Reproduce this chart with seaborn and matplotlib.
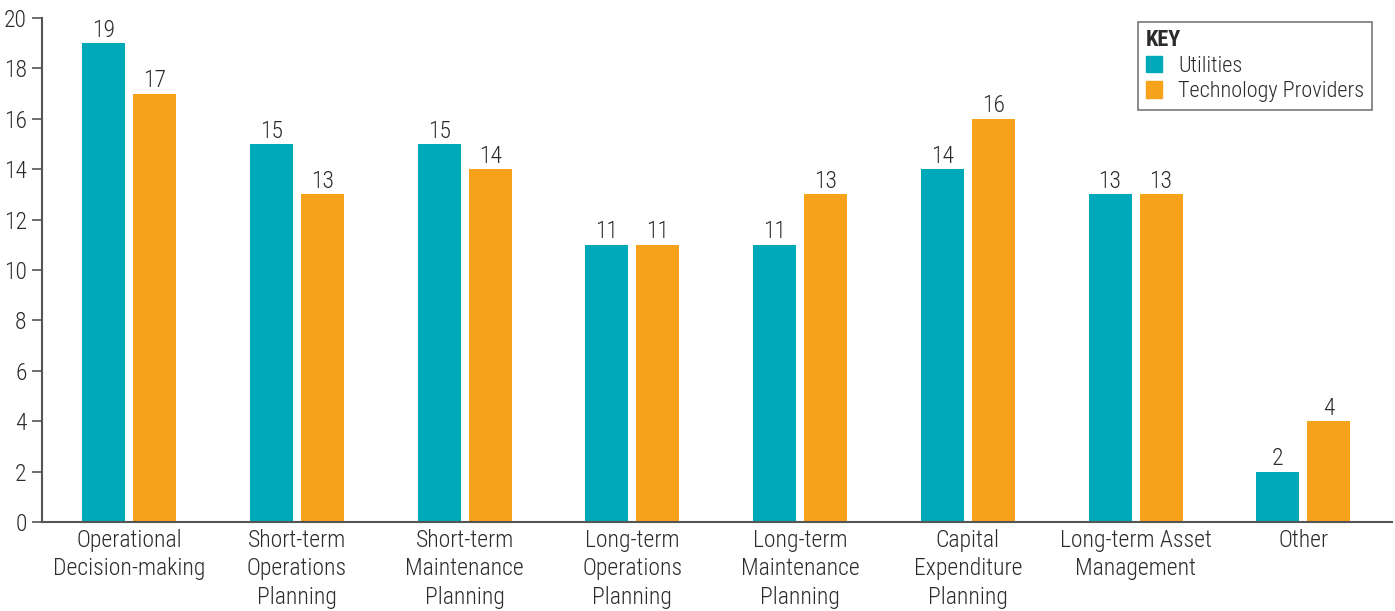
import matplotlib
matplotlib.use("Agg")
import matplotlib.pyplot as plt
import pandas as pd
import seaborn as sns
from matplotlib import font_manager
from matplotlib.patches import Patch

categories = [
    "Operational\nDecision-making",
    "Short-term\nOperations\nPlanning",
    "Short-term\nMaintenance\nPlanning",
    "Long-term\nOperations\nPlanning",
    "Long-term\nMaintenance\nPlanning",
    "Capital\nExpenditure\nPlanning",
    "Long-term Asset\nManagement",
    "Other",
]
utilities = [19, 15, 15, 11, 11, 14, 13, 2]
tech_providers = [17, 13, 14, 11, 13, 16, 13, 4]
series_names = ["Utilities", "Technology Providers"]
y_ticks = list(range(0, 21, 2))

df = pd.DataFrame({
    "Category": categories * 2,
    "Value": utilities + tech_providers,
    "Group": [series_names[0]] * len(categories) + [series_names[1]] * len(categories),
})

sns.set_style("white")
installed = {f.name for f in font_manager.fontManager.ttflist}
fam = [f for f in ["Liberation Sans Narrow", "Roboto Condensed", "DejaVu Sans Condensed"] if f in installed]
plt.rcParams["font.family"] = fam + ["DejaVu Sans"]
plt.rcParams["font.weight"] = "light"
text_color = "#2b2b2b"
axis_color = "#555555"
fs = 17

fig = plt.figure(figsize=(13.95, 6.11), dpi=100)
ax = fig.add_axes([0.030, 0.1457, 0.968, 0.8248])

palette = {"Utilities": "#00a9b9", "Technology Providers": "#f7a21b"}
sns.barplot(data=df, x="Category", y="Value", hue="Group", palette=palette,
            width=0.608, gap=0.158, ax=ax, saturation=1, legend=False,
            linewidth=0)

for cont in ax.containers:
    ax.bar_label(cont, fmt="%d", padding=1, fontsize=fs, color=text_color)

ax.set_ylim(0, 20)
ax.set_xlim(-0.52, len(categories) - 0.47)
ax.set_yticks(y_ticks)
ax.set_xlabel("")
ax.set_ylabel("")
ax.tick_params(axis="y", length=7, width=1.2, color=axis_color, labelsize=fs,
               labelcolor=text_color, direction="out", left=True, pad=4)
ax.tick_params(axis="x", length=0, labelsize=fs, labelcolor=text_color, pad=5)
for lbl in ax.get_xticklabels():
    lbl.set_linespacing(1.3)
for s in ["top", "right"]:
    ax.spines[s].set_visible(False)
for s in ["left", "bottom"]:
    ax.spines[s].set_color(axis_color)
    ax.spines[s].set_linewidth(1.5)

handles = [Patch(color=palette[n], label=n) for n in series_names]
leg = ax.legend(handles=handles, title="KEY", loc="upper right",
                bbox_to_anchor=(0.985, 0.993), fontsize=16, title_fontsize=16,
                frameon=True, fancybox=False, handlelength=0.75, handleheight=0.75,
                handletextpad=0.7, borderpad=0.35, labelspacing=0.2,
                alignment="left", borderaxespad=0)
leg.get_title().set_fontweight("bold")
leg.get_title().set_color(text_color)
for t in leg.get_texts():
    t.set_color(text_color)
leg.get_frame().set_edgecolor(axis_color)
leg.get_frame().set_linewidth(1.2)

fig.savefig("out.png", dpi=100)
